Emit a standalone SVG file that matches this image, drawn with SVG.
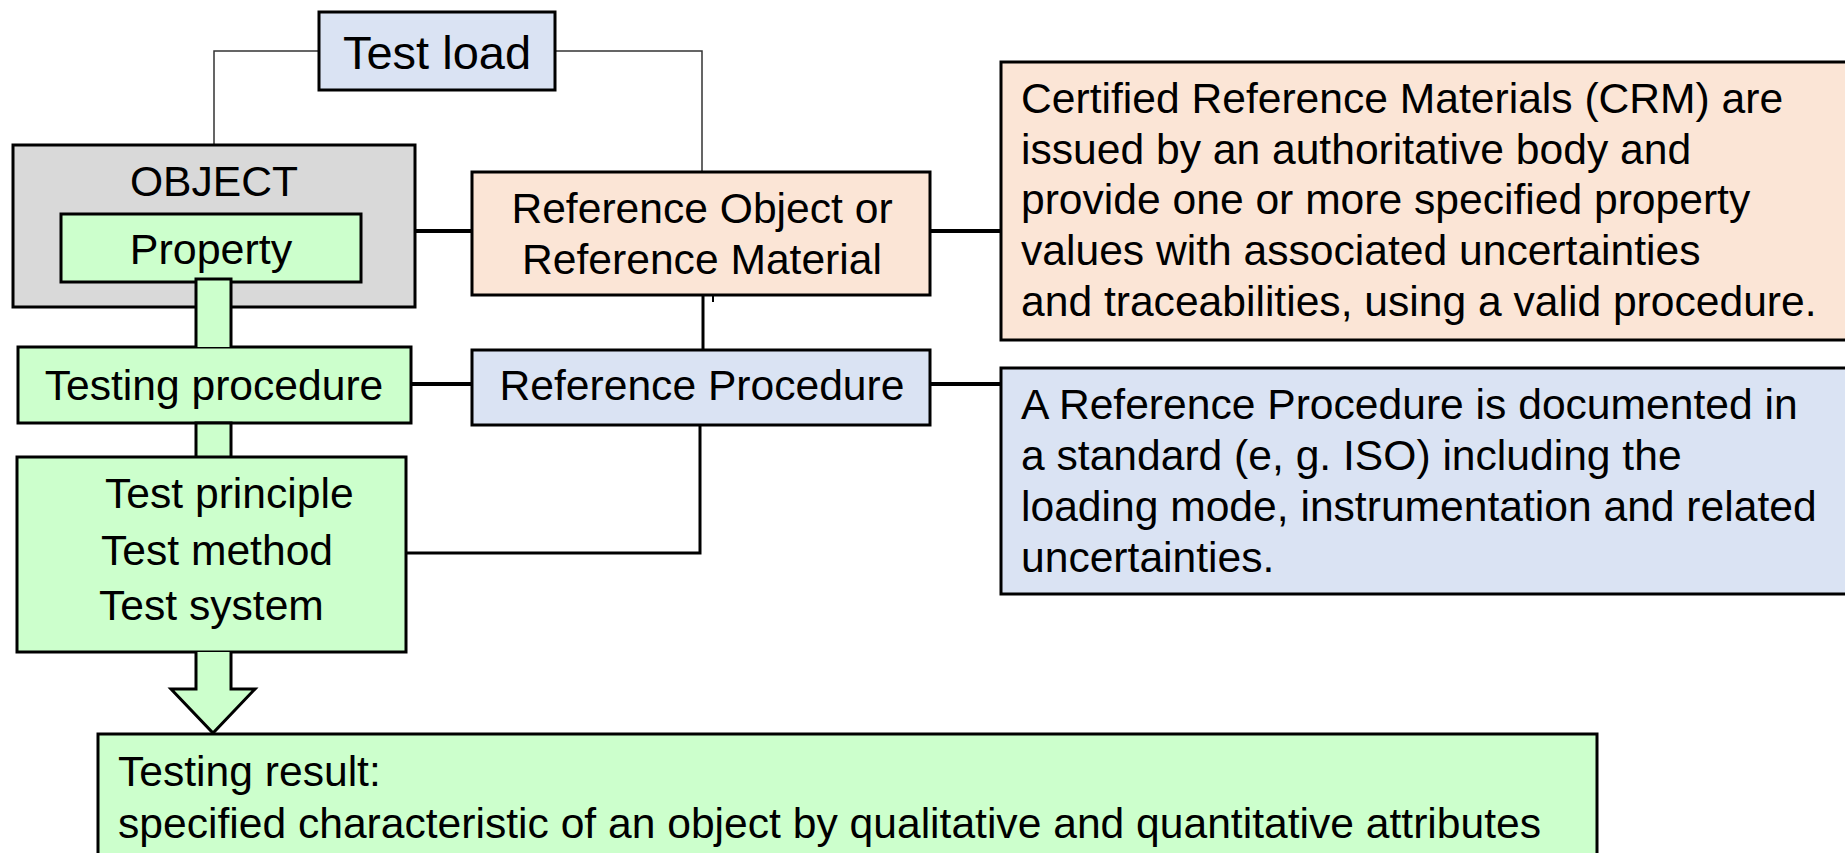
<svg xmlns="http://www.w3.org/2000/svg" width="1845" height="853" viewBox="0 0 1845 853">
<style>
text{font-family:"Liberation Sans",Arial,sans-serif;font-size:42.6px;fill:#000}
.box{stroke:#000;stroke-width:3}
.green{fill:#ccffcc}
.gray{fill:#d9d9d9}
.peach{fill:#fbe5d6}
.blue{fill:#dae3f3}
.thin{fill:none;stroke:#333;stroke-width:1.5}
.thick{fill:none;stroke:#000;stroke-width:4}
.mid{fill:none;stroke:#000;stroke-width:3}
.c{text-anchor:middle}
</style>
<rect width="1845" height="853" fill="#fff"/>
<g id="connectors">
<polyline class="thin" points="214,145 214,51 319,51"/>
<polyline class="thin" points="555,51 702,51 702,172"/>
<line class="thick" x1="415" y1="231" x2="472" y2="231"/>
<line class="thick" x1="930" y1="231" x2="1001" y2="231"/>
<line class="mid" x1="703" y1="295" x2="703" y2="350"/>
<line stroke="#000" stroke-width="2" x1="713" y1="295" x2="713" y2="302"/>
<line class="thick" x1="411" y1="384" x2="472" y2="384"/>
<line class="thick" x1="930" y1="384" x2="1001" y2="384"/>
<polyline class="mid" points="406,553 700,553 700,425"/>
</g>
<g id="test-load">
<rect class="box blue" x="319" y="12" width="236" height="78" stroke-width="2"/>
<text class="c" x="437" y="69" style="font-size:47px">Test load</text>
</g>
<g id="object">
<rect class="box gray" x="13" y="145" width="402" height="162"/>
<text class="c" x="214" y="196">OBJECT</text>
</g>
<g id="property">
<rect class="box green" x="61" y="214" width="300" height="68"/>
<text class="c" x="211" y="264" style="font-size:43px">Property</text>
</g>
<g id="ref-object">
<rect class="box peach" x="472" y="172" width="458" height="123"/>
<text class="c" x="702" y="223">Reference Object or</text>
<text class="c" x="702" y="274">Reference Material</text>
</g>
<g id="crm">
<rect class="box peach" x="1001" y="62" width="860" height="278"/>
<text x="1021" y="113">Certified Reference Materials (CRM) are</text>
<text x="1021" y="164">issued by an authoritative body and</text>
<text x="1021" y="214">provide one or more specified property</text>
<text x="1021" y="265">values with associated uncertainties</text>
<text x="1021" y="316">and traceabilities, using a valid procedure.</text>
</g>
<g id="testing-procedure">
<rect class="box green" x="18" y="347" width="393" height="76"/>
<text class="c" x="214" y="400">Testing procedure</text>
</g>
<g id="ref-procedure">
<rect class="box blue" x="472" y="350" width="458" height="75"/>
<text class="c" x="702" y="400">Reference Procedure</text>
</g>
<g id="ref-procedure-desc">
<rect class="box blue" x="1001" y="368" width="860" height="226"/>
<text x="1021" y="419">A Reference Procedure is documented in</text>
<text x="1021" y="470">a standard (e, g. ISO) including the</text>
<text x="1021" y="521">loading mode, instrumentation and related</text>
<text x="1021" y="572">uncertainties.</text>
</g>
<g id="flow-bar">
<path class="box green" d="M196,347 V279 H231 V347"/>
<path class="box green" d="M196,457 V423 H231 V457"/>
</g>
<g id="test-system">
<rect class="box green" x="17" y="457" width="389" height="195"/>
<text x="105" y="508">Test principle</text>
<text x="101" y="565">Test method</text>
<text x="99" y="620">Test system</text>
</g>
<g id="result-arrow">
<path class="box green" d="M196,652 V689 H171 L213,733 L255,689 H231 V652"/>
</g>
<g id="testing-result">
<rect class="box green" x="98" y="734" width="1499" height="140"/>
<text x="118" y="786">Testing result:</text>
<text x="118" y="838">specified characteristic of an object by qualitative and quantitative attributes</text>
</g>
</svg>
